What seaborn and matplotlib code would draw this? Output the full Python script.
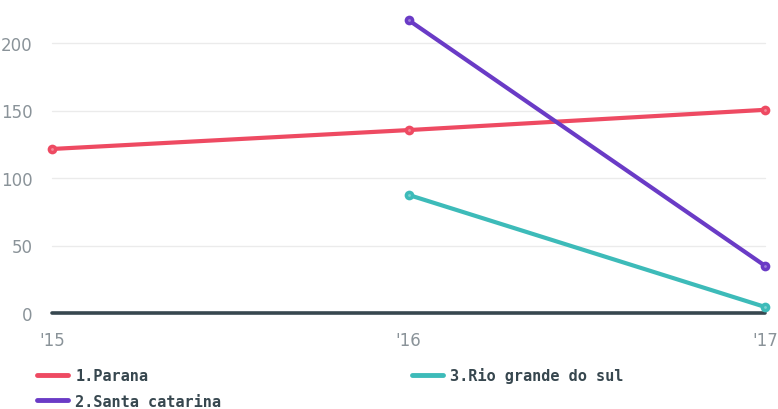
import matplotlib
matplotlib.use('Agg')
import matplotlib.pyplot as plt
import seaborn as sns
import pandas as pd
import numpy as np

years = [2015, 2016, 2017]
year_labels = ["'15", "'16", "'17"]
series_names = ['1.Parana', '2.Santa catarina', '3.Rio grande do sul']
parana = [121.5, 135.5, 150.5]
santa_catarina = [np.nan, 217.0, 35.0]
rio_grande = [np.nan, 87.5, 4.5]
colors = ['#ee4a62', '#6a3bc6', '#3dbbb9']

rows = []
for name, vals in zip(series_names, [parana, santa_catarina, rio_grande]):
    for yr, v in zip(years, vals):
        rows.append({'year': yr, 'value': v, 'series': name})
df = pd.DataFrame(rows).dropna()

sns.set_theme(style='white')
plt.rcParams['font.family'] = ['DejaVu Sans']

fig = plt.figure(figsize=(7.78, 4.10), dpi=100)
ax = fig.add_axes([52 / 778, (410 - 314) / 410, (765 - 52) / 778, 314 / 410])

ax.set_ylim(0, 314 / 1.35)
ax.set_xlim(2015, 2017)
for t in [50, 100, 150, 200]:
    ax.axhline(t, color='#ebebeb', lw=1, zorder=0)
ax.axhline(0, color='#37474f', lw=2.6, zorder=2, clip_on=False)

sns.lineplot(data=df, x='year', y='value', hue='series', palette=colors,
             hue_order=series_names, marker='o', markersize=7, lw=3,
             markeredgewidth=0, ax=ax, legend=False, zorder=3)
for line in ax.get_lines():
    line.set_clip_on(False)
# lighter centres on markers
for name, vals, c in zip(series_names, [parana, santa_catarina, rio_grande], colors):
    ax.scatter(years, vals, s=4, color='white', alpha=0.35, zorder=4, lw=0,
               clip_on=False)

for s in ax.spines.values():
    s.set_visible(False)
ax.set_xlabel('')
ax.set_ylabel('')
ax.set_xticks(years)
ax.set_xticklabels(year_labels)
ax.set_yticks([0, 50, 100, 150, 200])
ax.tick_params(axis='both', length=0, labelsize=12, colors='#8a9399')
ax.tick_params(axis='y', pad=14)
ax.tick_params(axis='x', pad=13)

handles = [plt.Line2D([], [], color=c, lw=3.5) for c in colors]
leg = fig.legend(handles, series_names, ncol=2, loc='upper left',
                 bbox_to_anchor=(31 / 778, 1 - 362 / 410), frameon=False,
                 prop={'family': 'DejaVu Sans Mono', 'weight': 'bold', 'size': 11},
                 handlelength=2.0, handletextpad=0.5, columnspacing=12.5,
                 labelspacing=0.7, borderaxespad=0)
for txt in leg.get_texts():
    txt.set_color('#37474f')

fig.savefig('out.png', dpi=100)
